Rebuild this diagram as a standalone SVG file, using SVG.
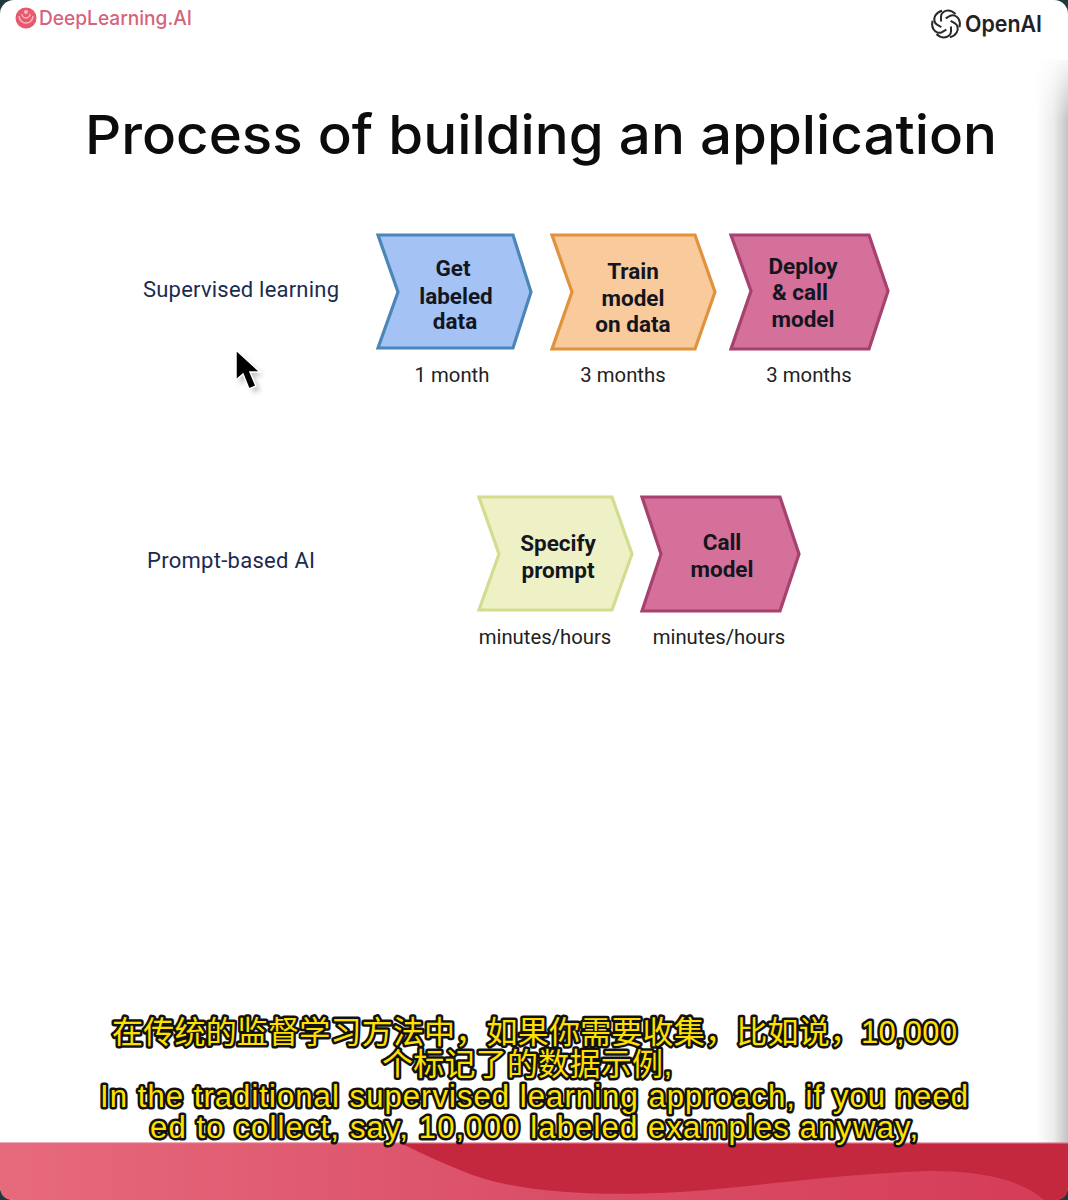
<svg xmlns="http://www.w3.org/2000/svg" width="1068" height="1200" viewBox="0 0 1068 1200">
<style>
.b{font-family:Roboto,"Liberation Sans",sans-serif;font-weight:700;font-size:22.5px;fill:#14161f;text-anchor:middle}
.d{font-family:Roboto,"Liberation Sans",sans-serif;font-size:20.3px;fill:#222;text-anchor:middle}
.l{font-family:Roboto,"Liberation Sans",sans-serif;font-size:22px;fill:#1c2a50}
.s{font-family:"Liberation Sans","Noto Sans CJK SC",sans-serif;font-size:31px;fill:#ffe000;stroke:#111;stroke-width:5px;paint-order:stroke;stroke-linejoin:round}
.c{stroke-width:3.2;stroke-linejoin:miter}
</style>
<defs>
<linearGradient id="edge" x1="0" x2="1" y1="0" y2="0"><stop offset="0" stop-color="#fff"/><stop offset="0.55" stop-color="#ececec"/><stop offset="1" stop-color="#c4c4c4"/></linearGradient>
<linearGradient id="fade" x1="0" x2="0" y1="0" y2="1"><stop offset="0" stop-color="#fff" stop-opacity="1"/><stop offset="1" stop-color="#fff" stop-opacity="0"/></linearGradient>
<linearGradient id="bar" x1="0" x2="1" y1="0" y2="0"><stop offset="0" stop-color="#e76a7c"/><stop offset="0.5" stop-color="#da4f68"/><stop offset="1" stop-color="#d63c56"/></linearGradient>
<filter id="blur" x="-50%" y="-50%" width="200%" height="200%"><feGaussianBlur stdDeviation="2.5"/></filter>
<path id="petal" d="M-5 -2.500V-7.500C-5 -11 -1.500 -13.500 2 -13.500C5.500 -13.500 7.500 -12 9.500 -10" fill="none" stroke="#2a2a2a" stroke-width="2"/>
</defs>
<rect width="1068" height="1200" fill="#1f3a3c"/>
<rect width="1068" height="1200" rx="14" fill="#fff"/>
<rect x="1036" y="60" width="32" height="1084" fill="url(#edge)"/>
<rect x="1030" y="50" width="38" height="70" fill="url(#fade)"/>
<g id="footer">
<path d="M0 1143H1068V1186Q1068 1200 1054 1200H14Q0 1200 0 1186Z" fill="url(#bar)"/>
<path d="M400 1143H1068V1186Q1068 1200 1054 1200H1044C1020 1178 975 1170 925 1171C840 1174 760 1186 680 1192C590 1197 510 1192 460 1170C435 1160 415 1150 400 1143Z" fill="#c3283f"/>
<rect y="1142" width="1068" height="2" fill="#d9788a" opacity=".6"/>
</g>
<g id="logo-deeplearning">
<circle cx="26" cy="18" r="10.500" fill="#e8596f"/>
<path d="M19 16A7 7 0 0 0 33 16M22 14A4 4 0 0 0 30 14" fill="none" stroke="#f6b8c1" stroke-width="1.400"/>
<circle cx="26" cy="12" r="2" fill="#f6b8c1"/>
<text x="39" y="25" font-family="Inter,'Open Sans',sans-serif" font-size="20" font-weight="500" fill="#d4647b" textLength="153" lengthAdjust="spacingAndGlyphs">DeepLearning.AI</text>
</g>
<g id="logo-openai">
<use href="#petal" transform="translate(946 24)"/>
<use href="#petal" transform="translate(946 24) rotate(60)"/>
<use href="#petal" transform="translate(946 24) rotate(120)"/>
<use href="#petal" transform="translate(946 24) rotate(180)"/>
<use href="#petal" transform="translate(946 24) rotate(240)"/>
<use href="#petal" transform="translate(946 24) rotate(300)"/>
<text x="965" y="32" font-family="Inter,Roboto,sans-serif" font-size="22.500" font-weight="600" fill="#222" textLength="77" lengthAdjust="spacingAndGlyphs">OpenAI</text>
</g>
<text id="title" x="85" y="154" font-family="Inter,'Open Sans',sans-serif" font-size="54" font-weight="500" fill="#0c0c0c" textLength="912" lengthAdjust="spacingAndGlyphs">Process of building an application</text>
<text class="l" x="143" y="297" textLength="196">Supervised learning</text>
<text class="l" x="147" y="568" textLength="168">Prompt-based AI</text>
<g id="connectors"/>
<g id="node-get-labeled-data">
<path class="c" d="M378 235H513L531 292L513 348H378L398 292Z" fill="#a4c2f4" stroke="#4a86b8"/>
<text class="b" x="453" y="276">Get</text><text class="b" x="456" y="304">labeled</text><text class="b" x="455" y="329">data</text>
<text class="d" x="452" y="382">1 month</text>
</g>
<g id="node-train-model">
<path class="c" d="M552 235H695L715 292L695 349H552L572 292Z" fill="#f9cb9c" stroke="#e0923c"/>
<text class="b" x="633" y="279">Train</text><text class="b" x="633" y="306">model</text><text class="b" x="633" y="332">on data</text>
<text class="d" x="623" y="382">3 months</text>
</g>
<g id="node-deploy">
<path class="c" d="M731 235H869L888 291L869 349H731L751 291Z" fill="#d5709a" stroke="#a64170"/>
<text class="b" x="803" y="274">Deploy</text><text class="b" x="800" y="300">&amp; call</text><text class="b" x="803" y="327">model</text>
<text class="d" x="809" y="382">3 months</text>
</g>
<g id="node-specify-prompt">
<path class="c" d="M479 497H612L632 554L612 610H479L499 554Z" fill="#eef1c6" stroke="#d3dc8f"/>
<text class="b" x="558" y="551">Specify</text><text class="b" x="558" y="578">prompt</text>
<text class="d" x="545" y="644">minutes/hours</text>
</g>
<g id="node-call-model">
<path class="c" d="M642 497H780L799 554L780 611H642L661 554Z" fill="#d5709a" stroke="#a64170"/>
<text class="b" x="722" y="550">Call</text><text class="b" x="722" y="577">model</text>
<text class="d" x="719" y="644">minutes/hours</text>
</g>
<g id="cursor">
<path d="M238 352V382L245 375L252 390L258 387L251 373H261Z" fill="#888" opacity=".5" filter="url(#blur)" transform="translate(2 3)"/>
<path d="M236 350V380L243 374L249 389L256 386L250 372H260Z" fill="#000" stroke="#fff" stroke-width="1.500"/>
</g>
<g id="subtitles">
<text class="s" x="112" y="1043" textLength="845">在传统的监督学习方法中，如果你需要收集，比如说，10,000</text>
<text class="s" x="382" y="1075" textLength="290">个标记了的数据示例,</text>
<text class="s" x="100" y="1107" textLength="868">In the traditional supervised learning approach, if you need</text>
<text class="s" x="150" y="1138" textLength="768">ed to collect, say, 10,000 labeled examples anyway,</text>
</g>
</svg>
